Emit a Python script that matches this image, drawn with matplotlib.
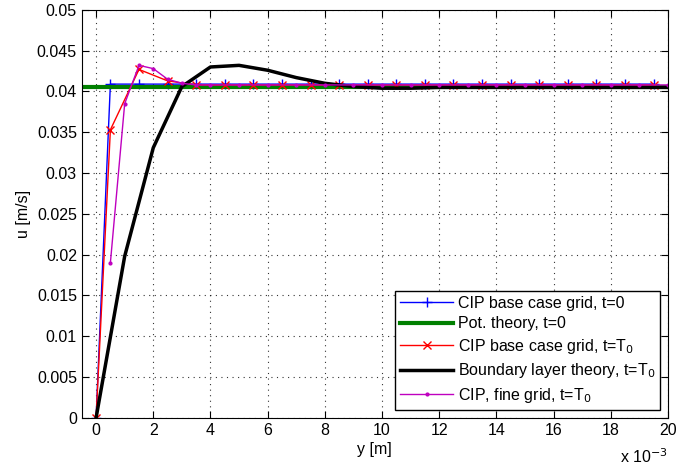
import numpy as np
import matplotlib.pyplot as plt

plt.rcParams['font.family'] = ['Liberation Sans', 'DejaVu Sans']

# CIP base case grid (cell centres), t=0
y_base = [0.0] + [0.0005 + 0.001 * i for i in range(20)]
u_base_t0 = [0.0] + [0.0409] * 20

# potential theory, t=0
y_pot = [-0.0005, 0.0205]
u_pot = [0.0405, 0.0405]

# CIP base case grid, t=T0
u_base_T0 = [0.0, 0.0353, 0.0427, 0.0413, 0.0408, 0.0408, 0.0408, 0.0408,
             0.0408, 0.0408, 0.0408, 0.0408, 0.0408, 0.0408, 0.0408, 0.0408,
             0.0408, 0.0408, 0.0408, 0.0408, 0.0408]

# boundary layer theory, t=T0
y_bl = [0.0, 0.001, 0.002, 0.003, 0.004, 0.005, 0.006, 0.007, 0.008, 0.009,
        0.010, 0.011, 0.012, 0.013, 0.014, 0.015, 0.016, 0.017, 0.018,
        0.019, 0.020]
u_bl = [0.0, 0.0198, 0.0331, 0.0406, 0.0430, 0.0432, 0.0426, 0.0417,
        0.0410, 0.0406, 0.0404, 0.0404, 0.0405, 0.0405, 0.0405, 0.0405,
        0.0405, 0.0405, 0.0405, 0.0405, 0.0405]

# CIP fine grid, t=T0
y_fine = [0.0005, 0.001, 0.0015, 0.002, 0.0025, 0.003, 0.0035, 0.004] + \
         [0.005 + 0.001 * i for i in range(16)]
u_fine = [0.0190, 0.0385, 0.0432, 0.0428, 0.0415, 0.0410, 0.0408, 0.0408] + \
         [0.0408] * 16

fs = 11.5

fig = plt.figure(figsize=(6.76, 4.70), dpi=100)
ax = fig.add_axes([0.121, 0.111, 0.867, 0.868])

ax.plot(y_base, u_base_t0, color='blue', lw=1, marker='+', ms=7,
        label='CIP base case grid, t=0')
ax.plot(y_pot, u_pot, color='#008000', lw=3, label='Pot. theory, t=0')
ax.plot(y_base, u_base_T0, color='red', lw=1, marker='x', ms=6,
        label='CIP base case grid, t=T$_0$')
ax.plot(y_bl, u_bl, color='black', lw=2.5,
        label='Boundary layer theory, t=T$_0$')
ax.plot(y_fine, u_fine, color='#bf00bf', lw=1, marker='.', ms=4,
        label='CIP, fine grid, t=T$_0$')

ax.set_xlim(-0.0005, 0.02)
ax.set_ylim(0, 0.05)
xt = np.arange(0, 0.0201, 0.002)
ax.set_xticks(xt)
ax.set_xticklabels([str(int(round(v * 1000))) for v in xt])
yt = np.arange(0, 0.0501, 0.005)
ax.set_yticks(yt)
ax.set_yticklabels(['0'] + ['%g' % round(v, 3) for v in yt[1:]])
ax.tick_params(direction='in', top=True, right=True, labelsize=fs, length=5)
ax.grid(True, linestyle=(0, (1, 4)), color='black', lw=0.8, alpha=0.8)

ax.set_xlabel('y [m]', fontsize=fs, labelpad=3)
ax.set_ylabel('u [m/s]', fontsize=fs, labelpad=4)
ax.text(1.0, -0.095, 'x 10$^{-3}$', transform=ax.transAxes, ha='right',
        va='center', fontsize=fs)

leg = ax.legend(loc='lower right', fontsize=fs, numpoints=1,
                handlelength=3.3, fancybox=False, edgecolor='black',
                framealpha=1, borderpad=0.3, labelspacing=0.35,
                handletextpad=0.3, borderaxespad=0.5)
leg.get_frame().set_linewidth(1)

fig.savefig('out.png', dpi=100)
